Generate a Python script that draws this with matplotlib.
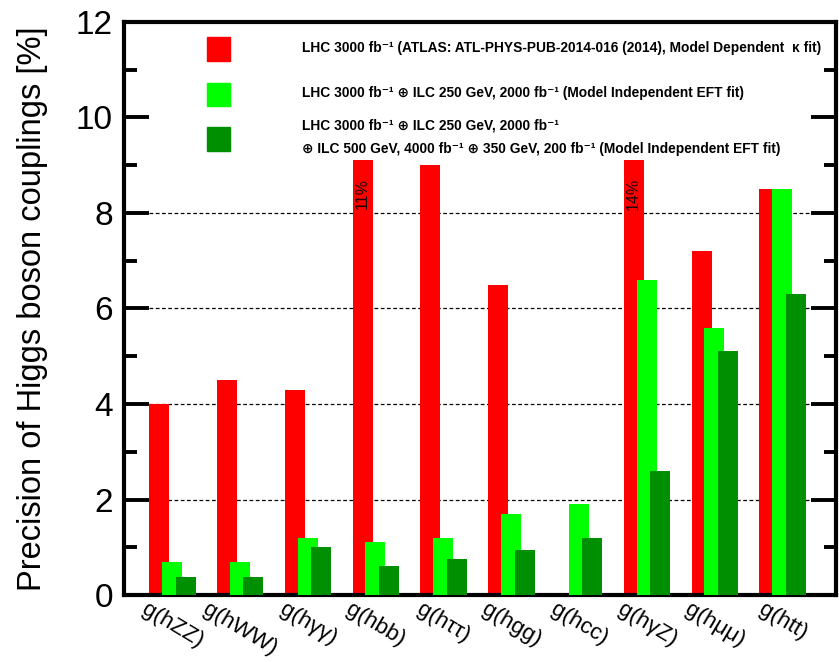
import numpy as np
import matplotlib
matplotlib.use('Agg')
import matplotlib.pyplot as plt
from matplotlib.patches import Rectangle

couplings = ['g(hZZ)', 'g(hWW)', 'g(hγγ)', 'g(hbb)', 'g(hττ)',
             'g(hgg)', 'g(hcc)', 'g(hγZ)', 'g(hμμ)', 'g(htt)']
# precision in %, nan = not available
lhc = [4.0, 4.5, 4.3, 11.0, 9.0, 6.5, np.nan, 14.0, 7.2, 8.5]
ilc250 = [0.7, 0.7, 1.2, 1.1, 1.2, 1.7, 1.9, 6.6, 5.6, 8.5]
ilc_full = [0.38, 0.38, 1.0, 0.6, 0.75, 0.95, 1.2, 2.6, 5.1, 6.3]

legend_lines = [
    'LHC 3000 fb⁻¹ (ATLAS: ATL-PHYS-PUB-2014-016 (2014), Model Dependent  κ fit)',
    'LHC 3000 fb⁻¹ ⊕ ILC 250 GeV, 2000 fb⁻¹ (Model Independent EFT fit)',
    'LHC 3000 fb⁻¹ ⊕ ILC 250 GeV, 2000 fb⁻¹',
    '⊕ ILC 500 GeV, 4000 fb⁻¹ ⊕ 350 GeV, 200 fb⁻¹ (Model Independent EFT fit)',
]

RED = '#ff0000'
LGREEN = '#00ff00'
DGREEN = '#008f00'
cap = 9.1  # bars above this are cut below the legend

plt.rcParams['font.family'] = ['Liberation Sans', 'DejaVu Sans']

fig = plt.figure(figsize=(8.39, 6.62), dpi=100)
ax = fig.add_axes([0.1478, 0.1012, 0.8486, 0.8656])

x = np.arange(len(couplings))
w = 0.295
lhc_arr = np.array(lhc)
ax.bar(x, np.minimum(lhc_arr, cap), w, align='edge', color=RED, zorder=2)
ax.bar(x + 0.19, ilc250, w, align='edge', color=LGREEN, zorder=3)
ax.bar(x + 0.39, ilc_full, w, align='edge', color=DGREEN, zorder=4)

# values that run off the top are written on the bar
for xi, v in zip(x, lhc_arr):
    if v > cap:
        ax.text(xi + w / 2, 8.4, f'{v:.0f}%', rotation=90, ha='center', va='center',
                fontsize=11.5, color='#200000', zorder=5)

for g in [2, 4, 6, 8]:
    ax.axhline(g, color='black', lw=0.9, ls=(0, (3, 2)), zorder=1)

ax.set_xlim(-0.37, 10.13)
ax.set_ylim(0, 12)
ax.set_yticks(np.arange(0, 13, 2))
ax.set_yticks(np.arange(1, 12, 2), minor=True)
ax.tick_params(axis='y', which='both', direction='in', left=True, right=True,
               width=2.8, labelsize=24, pad=8)
ax.tick_params(axis='y', which='major', length=18)
ax.tick_params(axis='y', which='minor', length=9)
ax.set_xticks(x + 0.3425)
ax.set_xticklabels(couplings, rotation=-31, ha='center', fontsize=16.2)
ax.tick_params(axis='x', length=0, pad=3)
for s in ax.spines.values():
    s.set_linewidth(3)
ax.set_ylabel('Precision of Higgs boson couplings [%]', fontsize=23.5, labelpad=20)

# legend
for y0, c in [(0.932, RED), (0.853, LGREEN), (0.775, DGREEN)]:
    ax.add_patch(Rectangle((0.1166, y0), 0.0323, 0.041, transform=ax.transAxes,
                           color=c, zorder=6, clip_on=False))
for y0, t in zip([0.9546, 0.876, 0.820, 0.778], legend_lines):
    ax.text(0.25, y0, t, transform=ax.transAxes, ha='left', va='center',
            fontsize=9.9, fontweight='bold', zorder=6)

fig.savefig('out.png', dpi=100)
